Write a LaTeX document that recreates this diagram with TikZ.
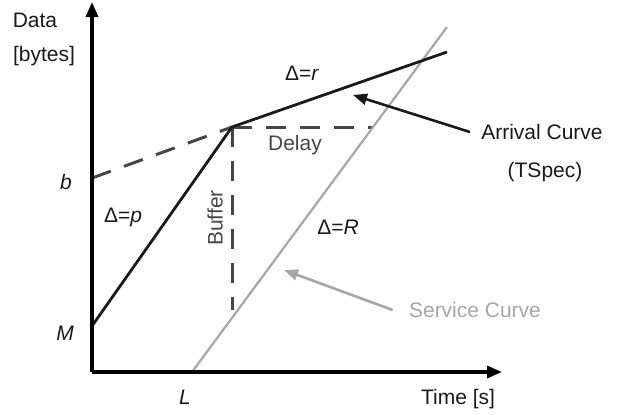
\documentclass[tikz,border=0pt]{standalone}
\usepackage{fontspec}
\setmainfont{Liberation Sans}
\usetikzlibrary{arrows.meta}
\definecolor{svc}{RGB}{166,166,166}
\definecolor{guidegray}{RGB}{70,70,70}
\definecolor{ink}{RGB}{26,26,26}
\begin{document}
\begin{tikzpicture}[x=0.5pt,y=-0.5pt,
  font=\fontsize{10.5}{12.5}\selectfont,
  axis/.style={line width=1.6pt,-{Triangle[length=7.5pt,width=6pt]}},
  arrival/.style={line width=1.4pt,color=ink},
  service/.style={line width=1.1pt,color=svc},
  guide/.style={line width=1.5pt,color=guidegray,dash pattern=on 10pt off 7pt},
  lbl/.style={inner sep=0pt,text=ink},
  pointer/.style={line width=1.3pt,-{Triangle[length=7pt,width=5.5pt]}}]
\useasboundingbox (0,0) rectangle (625,414);
% key points
\coordinate (O) at (92,372);
\coordinate (Ytop) at (92,2);
\coordinate (Xend) at (502,372);
\coordinate (M) at (92,326);
\coordinate (K) at (232,127);
\coordinate (A1) at (447,52);
\coordinate (B) at (92,178);
\coordinate (D) at (372,127);
\coordinate (Bu) at (232,310);
\coordinate (L) at (192,372);
\coordinate (S1) at (447,27);
\coordinate (ap) at (353,95);
\coordinate (sp) at (284,270);
% guides
\draw[guide] (B) -- (K);
\draw[guide] (K) -- (D);
\draw[guide] (K) -- (Bu);
% service curve
\draw[service] (L) -- (S1);
% arrival curve
\draw[arrival] (M) -- (K) -- (A1);
% axes
\draw[axis] (O) -- (Ytop);
\draw[axis] (O) -- (Xend);
% labels
\node[lbl] (data) at (35,20) {Data};
\node[lbl] (bytes) at (44,56) {[bytes]};
\node[lbl] (lb) at (66,182) {\textit{b}};
\node[lbl] (lM) at (65,333) {\textit{M}};
\node[lbl] (lL) at (185,397) {\textit{L}};
\node[lbl] (time) at (458,399) {Time [s]};
\node[lbl] (dp) at (123,217) {Δ=\textit{p}};
\node[lbl] (dr) at (302,73) {Δ=\textit{r}};
\node[lbl] (dR) at (338,227) {Δ=\textit{R}};
\node[lbl,text=guidegray] (delay) at (295,145) {Delay};
\node[lbl,text=guidegray,rotate=90] (buffer) at (215,218) {Buffer};
\node[lbl] (arr) at (542,132) {Arrival Curve};
\node[lbl] (tspec) at (545,172) {(TSpec)};
\node[lbl,text=svc] (svcl) at (475,310) {Service Curve};
% pointers
\draw[pointer,color=ink] ([xshift=-5.5pt]arr.west) -- (ap);
\draw[pointer,color=svc] ([xshift=-8pt]svcl.west) -- (sp);
\end{tikzpicture}
\end{document}
